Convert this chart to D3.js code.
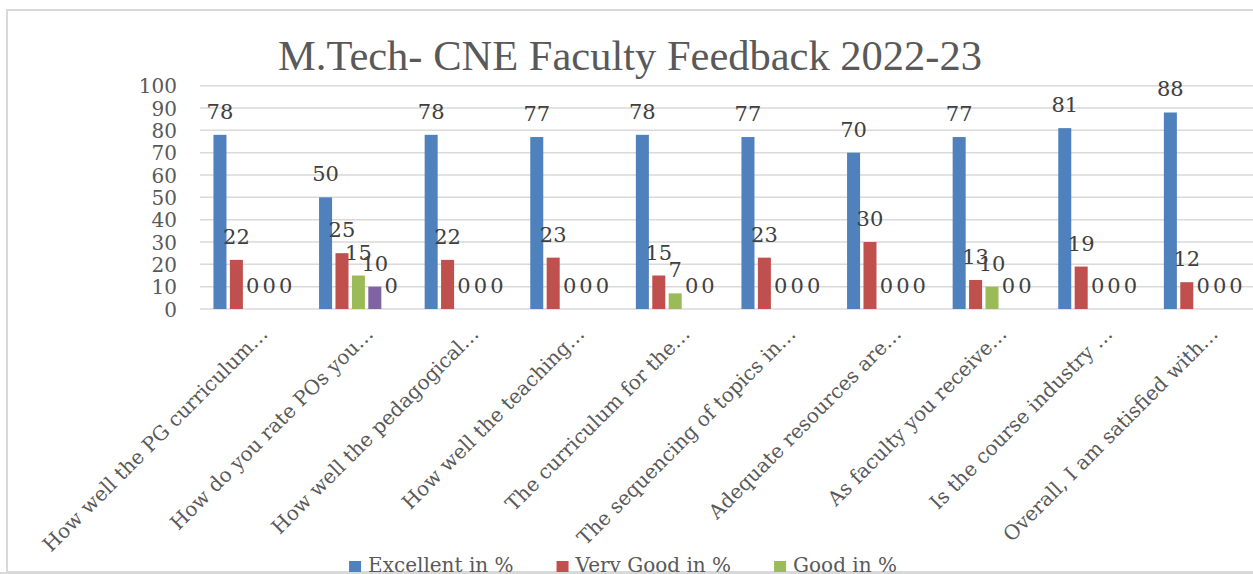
<!DOCTYPE html>
<html lang="en">
<head>
<meta charset="UTF-8">
<title>M.Tech- CNE Faculty Feedback 2022-23</title>
<script src="https://cdn.jsdelivr.net/npm/d3@7/dist/d3.min.js"></script>
<style>
  body { margin: 0; background: #fff; }
  svg { display: block; }
</style>
</head>
<body>
<script>
// chart data
var categories = [
  "How well the PG curriculum\u2026",
  "How do you rate POs you\u2026",
  "How well the pedagogical\u2026",
  "How well the teaching\u2026",
  "The curriculum for the\u2026",
  "The sequencing of topics in\u2026",
  "Adequate resources are\u2026",
  "As faculty you receive\u2026",
  "Is the course industry \u2026",
  "Overall, I am satisfied with\u2026"
];
var seriesNames = ["Excellent in %", "Very Good in %", "Good in %", "Average in %", "Poor in %"];
var excellent = [78, 50, 78, 77, 78, 77, 70, 77, 81, 88];
var veryGood  = [22, 25, 22, 23, 15, 23, 30, 13, 19, 12];
var good      = [0, 15, 0, 0, 7, 0, 0, 10, 0, 0];
var average   = [0, 10, 0, 0, 0, 0, 0, 0, 0, 0];
var poor      = [0, 0, 0, 0, 0, 0, 0, 0, 0, 0];
var yTicks = [0, 10, 20, 30, 40, 50, 60, 70, 80, 90, 100];

var colors = ["#4f81bd", "#c0504d", "#9bbb59", "#8064a2", "#4bacc6"];
var allSeries = [excellent, veryGood, good, average, poor];

var w = 1253, h = 574;
var font = "'DejaVu Serif', serif";

var svg = d3.select("body").append("svg")
  .attr("width", w)
  .attr("height", h);

// outer chart border
svg.append("rect")
  .attr("x", 7).attr("y", 10)
  .attr("width", 1260).attr("height", 562)
  .attr("fill", "#fff")
  .attr("stroke", "#d9d9d9")
  .attr("stroke-width", 2);

// scales
var x0 = d3.scaleBand()
  .domain(categories)
  .range([200, 1256]);
var x1 = d3.scaleBand()
  .domain(seriesNames)
  .range([0, x0.bandwidth()])
  .paddingInner(0.207)
  .paddingOuter(0.82);
var y = d3.scaleLinear()
  .domain([0, 100])
  .range([309, 85.7]);

// gridlines
svg.append("g")
  .selectAll("line")
  .data(yTicks)
  .enter()
  .append("line")
  .attr("x1", 200)
  .attr("x2", w)
  .attr("y1", function(d) { return y(d); })
  .attr("y2", function(d) { return y(d); })
  .attr("stroke", "#d9d9d9")
  .attr("stroke-width", 1.5);

// y axis labels
var yAxis = d3.axisLeft(y).tickValues(yTicks).tickSize(0).tickPadding(0);
var gy = svg.append("g")
  .attr("transform", "translate(177,0)")
  .call(yAxis);
gy.select(".domain").remove();
gy.selectAll("text")
  .attr("font-family", font)
  .attr("font-size", 20)
  .attr("fill", "#595959")
  .attr("dy", "0.36em");

// bars
var rows = [];
categories.forEach(function(c, i) {
  seriesNames.forEach(function(s, j) {
    rows.push({ cat: c, series: s, value: allSeries[j][i], color: colors[j] });
  });
});

svg.append("g")
  .selectAll("rect")
  .data(rows)
  .enter()
  .append("rect")
  .attr("x", function(d) { return x0(d.cat) + x1(d.series); })
  .attr("y", function(d) { return y(d.value); })
  .attr("width", x1.bandwidth())
  .attr("height", function(d) { return y(0) - y(d.value); })
  .attr("fill", function(d) { return d.color; });

// data labels
svg.append("g")
  .selectAll("text")
  .data(rows)
  .enter()
  .append("text")
  .attr("x", function(d) { return x0(d.cat) + x1(d.series) + x1.bandwidth() / 2; })
  .attr("y", function(d) { return y(d.value) - 16; })
  .attr("text-anchor", "middle")
  .attr("font-family", font)
  .attr("font-size", 21)
  .attr("fill", "#404040")
  .text(function(d) { return d.value; });

// category labels, rotated
svg.append("g")
  .selectAll("text")
  .data(categories)
  .enter()
  .append("text")
  .attr("transform", function(d) {
    return "translate(" + (x0(d) + x0.bandwidth() / 2 + 16) + ",335) rotate(-45)";
  })
  .attr("text-anchor", "end")
  .attr("font-family", font)
  .attr("font-size", 20)
  .attr("fill", "#595959")
  .text(function(d) { return d; });

// title
svg.append("text")
  .attr("x", 630)
  .attr("y", 70)
  .attr("text-anchor", "middle")
  .attr("font-family", "'Liberation Serif', 'Times New Roman', serif")
  .attr("font-size", 42.5)
  .attr("fill", "#595959")
  .text("M.Tech- CNE Faculty Feedback 2022-23");

// legend: first row shows 3 items, the rest wraps below the visible area
var legendRows = [[0, 1, 2], [3, 4]];
var legendY = [573, 600];
legendRows.forEach(function(row, r) {
  var g = svg.append("g");
  var xpos = 0;
  row.forEach(function(j, k) {
    g.append("rect")
      .attr("x", xpos).attr("y", legendY[r] - 12)
      .attr("width", 12).attr("height", 12)
      .attr("fill", colors[j]);
    var t = g.append("text")
      .attr("x", xpos + 19).attr("y", legendY[r] - 1)
      .attr("font-family", font)
      .attr("font-size", 20)
      .attr("fill", "#595959")
      .text(seriesNames[j]);
    xpos += 19 + t.node().getComputedTextLength() + (k < row.length - 1 ? 43 : 0);
  });
  g.attr("transform", "translate(" + (623 - xpos / 2) + ",0)");
});

// bottom edge of the picture
svg.append("line")
  .attr("x1", 0).attr("x2", w)
  .attr("y1", 573).attr("y2", 573)
  .attr("stroke", "#d9d9d9")
  .attr("stroke-width", 2);
</script>
</body>
</html>
